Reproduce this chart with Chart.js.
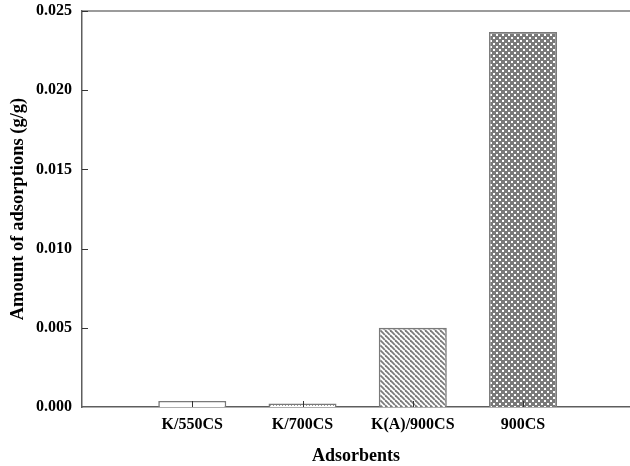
<!DOCTYPE html>
<html>
<head>
<meta charset="utf-8">
<script src="https://cdn.jsdelivr.net/npm/chart.js@4/dist/chart.umd.min.js"></script>
<style>
  html, body { margin: 0; padding: 0; background: #fff; }
  #wrap { width: 630px; height: 466px; overflow: hidden; }
</style>
</head>
<body>
<div id="wrap"><canvas id="c" width="630" height="466"></canvas></div>
<script>
// Adsorbent samples and measured uptake (g/g)
const categories = ['K/550CS', 'K/700CS', 'K(A)/900CS', '900CS'];
const adsorption = [0.00038, 0.00022, 0.00500, 0.02368];
const yTicks = [0, 0.005, 0.010, 0.015, 0.020, 0.025];

const FONT = "'Liberation Serif', 'Times New Roman', serif";
const EDGE = '#7a7a7a';
const AXIS = '#5e5e5e';

function tile(size, draw) {
  const c = document.createElement('canvas');
  c.width = size; c.height = size;
  const g = c.getContext('2d');
  g.fillStyle = '#fff';
  g.fillRect(0, 0, size, size);
  draw(g, size);
  return document.getElementById('c').getContext('2d').createPattern(c, 'repeat');
}

// diagonal hatch "\\\"
const hatch = tile(5, (g, s) => {
  g.strokeStyle = '#7a7a7a';
  g.lineWidth = 1.8;
  [-s, 0, s].forEach(o => {
    g.beginPath();
    g.moveTo(o, 0);
    g.lineTo(o + s, s);
    g.stroke();
  });
});

// dense cross-hatch with staggered openings
const cross = tile(6, (g, s) => {
  g.fillStyle = '#7a7a7a';
  g.fillRect(0, 0, s, s);
  g.fillStyle = '#fff';
  g.fillRect(1, 1, 2, 2);
  g.fillRect(4, 4, 2, 2);
});

// fine dots
const dots = tile(3, (g) => {
  g.fillStyle = '#9a9a9a';
  g.fillRect(0, 0, 1, 1);
});

const fills = ['#ffffff', dots, hatch, cross];

const frame = {
  id: 'frame',
  afterDatasetsDraw(chart) {
    const { ctx, chartArea: a, scales: { x, y } } = chart;
    ctx.save();
    // top border line
    ctx.strokeStyle = EDGE;
    ctx.lineWidth = 1.5;
    ctx.beginPath();
    ctx.moveTo(a.left, a.top);
    ctx.lineTo(a.right, a.top);
    ctx.stroke();
    // inward ticks
    ctx.strokeStyle = '#333';
    ctx.lineWidth = 1;
    yTicks.slice(1).forEach(v => {
      const py = Math.round(y.getPixelForValue(v)) + 0.5;
      ctx.beginPath();
      ctx.moveTo(a.left, py);
      ctx.lineTo(a.left + 6, py);
      ctx.stroke();
    });
    categories.forEach((_, i) => {
      const px = Math.round(x.getPixelForValue(i + 1)) + 0.5;
      ctx.beginPath();
      ctx.moveTo(px, a.bottom);
      ctx.lineTo(px, a.bottom - 6);
      ctx.stroke();
    });
    ctx.restore();
  }
};

new Chart(document.getElementById('c'), {
  type: 'bar',
  data: {
    datasets: [{
      data: adsorption.map((v, i) => ({ x: i + 1, y: v })),
      backgroundColor: fills,
      borderColor: EDGE,
      borderWidth: 1.6,
      borderSkipped: 'bottom',
      categoryPercentage: 1,
      barPercentage: 0.617
    }]
  },
  options: {
    responsive: false,
    devicePixelRatio: 1,
    animation: false,
    layout: { padding: { top: 11, right: 0, left: 0, bottom: 0 } },
    plugins: { legend: { display: false }, tooltip: { enabled: false } },
    scales: {
      x: {
        type: 'linear',
        min: 0,
        max: 4.97,
        offset: false,
        afterBuildTicks(s) { s.ticks = categories.map((_, i) => ({ value: i + 1 })); },
        afterFit(s) { s.height = 59; s.paddingLeft = 0; s.paddingRight = 0; },
        grid: { display: false, offset: false, drawTicks: false },
        border: { display: true, color: AXIS, width: 1.5 },
        ticks: {
          autoSkip: false,
          maxRotation: 0,
          padding: 8,
          color: '#000',
          font: { family: FONT, size: 16, weight: 'bold' },
          callback: (v) => categories[v - 1] || ''
        },
        title: {
          display: true,
          text: 'Adsorbents',
          color: '#000',
          padding: { top: 0, bottom: -1 },
          font: { family: FONT, size: 18, weight: 'bold' }
        }
      },
      y: {
        min: 0,
        max: 0.025,
        afterBuildTicks(s) { s.ticks = yTicks.map(v => ({ value: v })); },
        afterFit(s) { s.width = 82; s.paddingTop = 0; s.paddingBottom = 0; },
        grid: { display: false, drawTicks: false },
        border: { display: true, color: AXIS, width: 1.5 },
        ticks: {
          padding: 10,
          color: '#000',
          font: { family: FONT, size: 16, weight: 'bold' },
          callback: (v) => Number(v).toFixed(3)
        },
        title: {
          display: true,
          text: 'Amount of adsorptions (g/g)',
          color: '#000',
          padding: { top: 7, bottom: 0 },
          font: { family: FONT, size: 18.5, weight: 'bold' }
        }
      }
    }
  },
  plugins: [frame]
});
</script>
</body>
</html>
